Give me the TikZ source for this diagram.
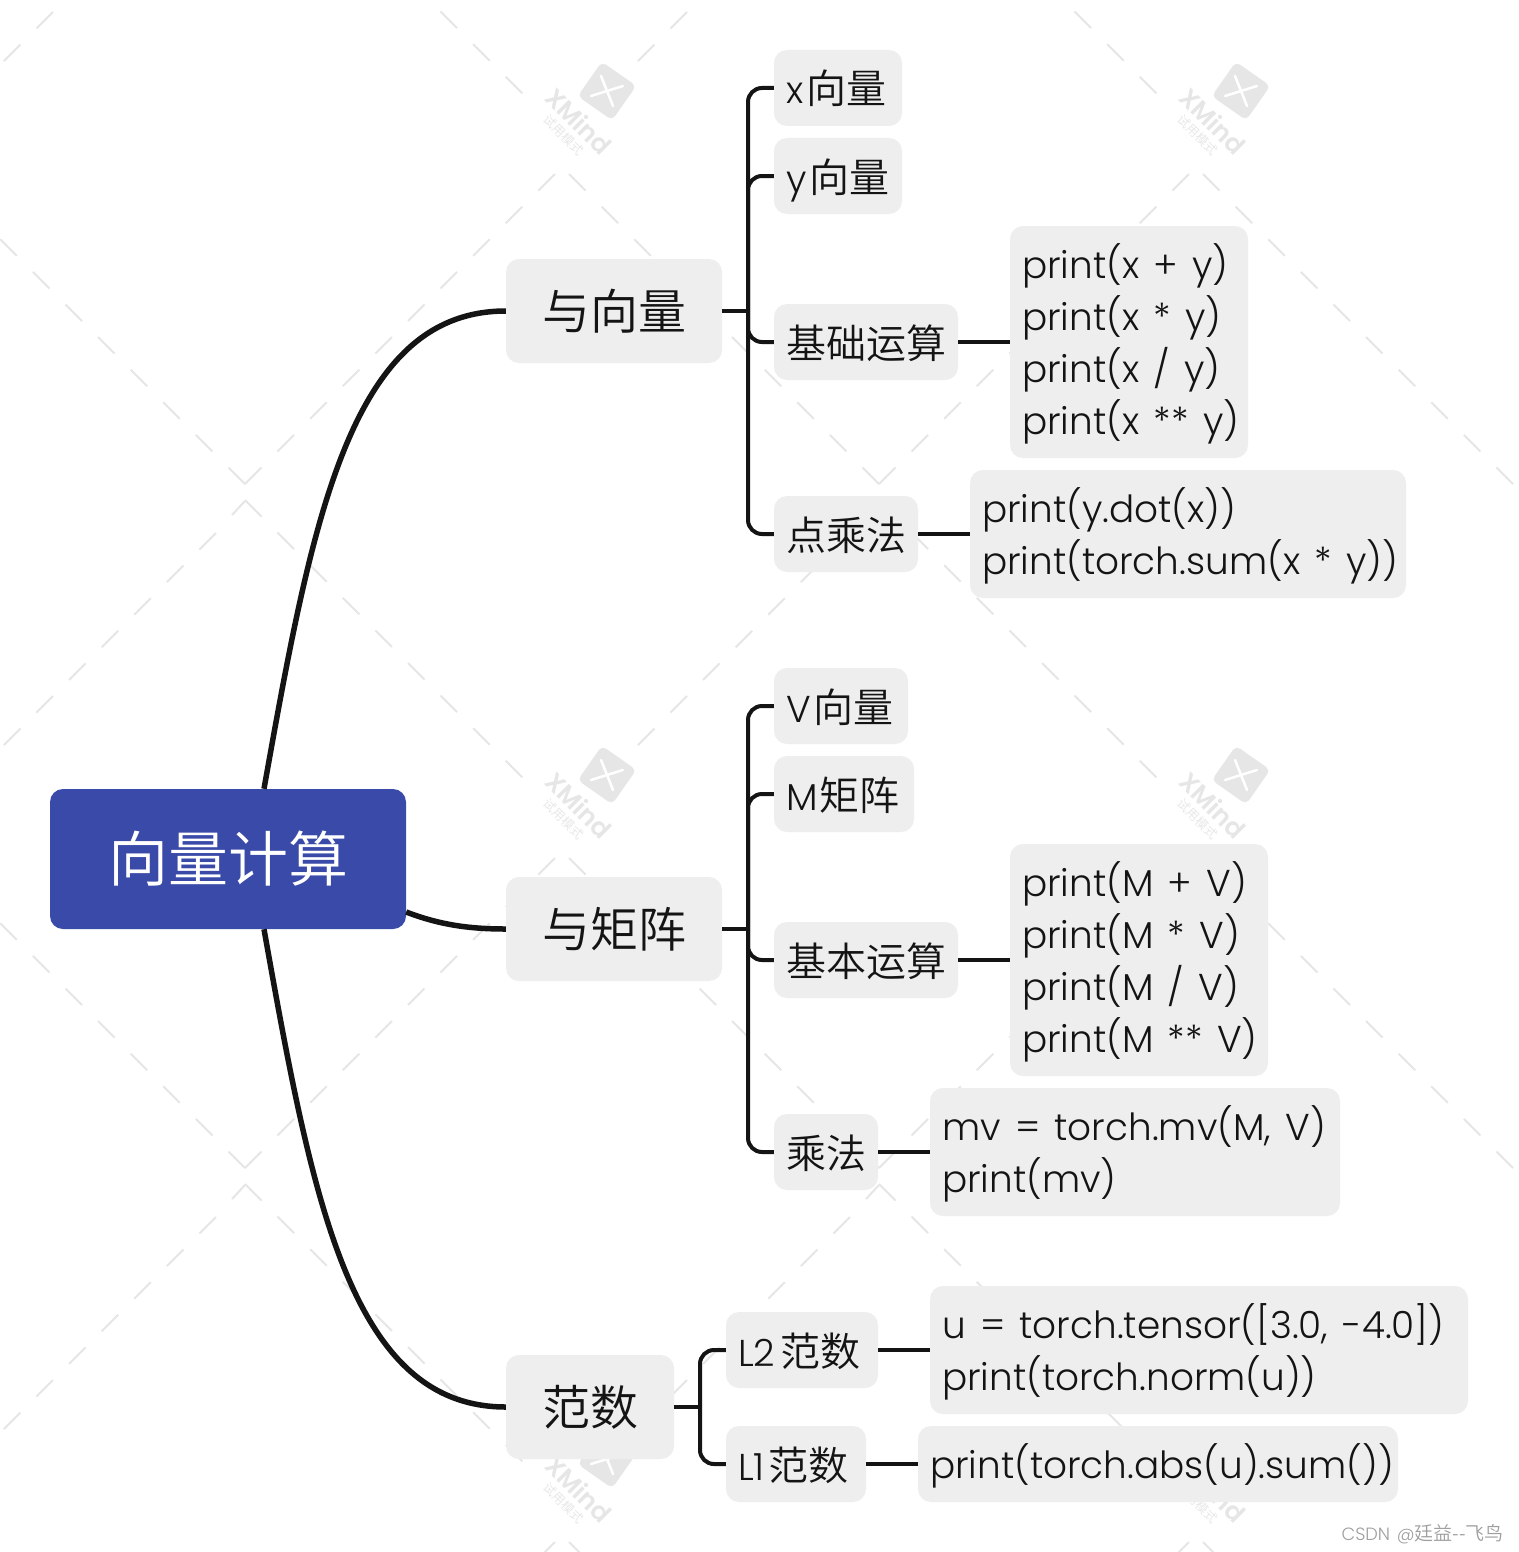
\documentclass[tikz,border=0pt]{standalone}
\usepackage{fontspec}
\setmainfont{Poppins}[UprightFont=* Light,BoldFont=* SemiBold,Scale=0.935,WordSpace=1.4]
\newfontfamily\cjk{Noto Sans CJK SC DemiLight}
\newcommand{\Cn}[1]{{\cjk #1}}
\definecolor{nodegray}{HTML}{EEEEEE}
\definecolor{rootblue}{HTML}{3A4AA9}
\definecolor{ink}{HTML}{141414}
\definecolor{wm}{HTML}{E6E6E6}
\tikzset{
  boxbase/.style={fill=nodegray,rounded corners=13pt,inner sep=0pt,text=ink},
  conn/.style={draw=ink,line width=4pt},
  trunk/.style={conn,rounded corners=14pt},
  curve/.style={conn,line width=5.5pt},
  wmdash/.style={draw=wm,line width=2pt},
}
% name, cx, cy, w, h, text : left-aligned with 12px margin
\newcommand{\leaf}[6]{%
  \pgfmathsetmacro{\innerw}{#4-24}%
  \node[boxbase,minimum width=#4pt,minimum height=#5pt] (#1) at (#2,#3)
   {\makebox[\innerw pt][l]{\raisebox{-16pt}[0pt][0pt]{\fontsize{40}{52}\selectfont #6}}};}
\newcommand{\codeleaf}[6]{%
  \pgfmathsetmacro{\innerw}{#4-24}%
  \node[boxbase,minimum width=#4pt,minimum height=#5pt] (#1) at (#2,#3)
   {\makebox[\innerw pt][l]{\raisebox{-4.5pt}[0pt][0pt]{\parbox[c]{1200pt}{\raggedright\fontsize{40}{52}\selectfont #6}}}};}
\begin{document}
\begin{tikzpicture}[x=1pt,y=-1pt]
\useasboundingbox (0,0) rectangle (1518,1552);
\fill[white] (0,0) rectangle (1518,1552);
% watermark
\begin{scope}
\clip (0,0) rectangle (1518,1552);
\foreach \k in {-1,0,1} \foreach \m in {-1,0,1,2} {
 \begin{scope}[shift={(\k*634,\m*684)}]
  \foreach \i in {0,...,9} {
    \draw[wmdash] (245+32.6*\i,484-32.6*\i) -- ++(16.5,-16.5);
    \draw[wmdash] (879-32.6*\i,484-32.6*\i) -- ++(-16.5,-16.5);
  }
  \foreach \i in {0,...,8} \draw[wmdash] (245+32.6*\i,500+32.6*\i) -- ++(16.5,16.5);
  \draw[wmdash] (245,501) -- (232,515);
  \foreach \i in {0,...,6} \draw[wmdash] (216-32.6*\i,533+32.6*\i) -- ++(-16.5,16.5);
 \end{scope}
}
\foreach \k in {0,1} \foreach \m in {0,1,2} {
 \begin{scope}[shift={(\k*634,\m*684)}]
  \node[fill=wm,rounded corners=5pt,minimum size=42pt,inner sep=0pt,rotate=-35] (wmlogo\k\m) at (607,91) {};
  \draw[white,line width=2.5pt,line cap=round] (591,96) -- (623,86);
  \draw[white,line width=2.5pt,line cap=round] (601,76) -- (613,106);
  \node[rotate=-45,text=wm,font=\bfseries\fontsize{27}{27}\selectfont,inner sep=0pt] (wmname\k\m) at (579,121) {XMind};
  \node[rotate=-45,text=wm,font=\cjk\fontsize{12.5}{13}\selectfont,inner sep=0pt] (wmsub\k\m) at (564,135) {试用模式};
 \end{scope}
}
\end{scope}
% root and first level
\node[fill=rootblue,rounded corners=13pt,minimum width=356pt,minimum height=140pt,inner sep=0pt,text=white,font=\cjk\fontsize{60}{60}\selectfont] (root) at (228,859) {向量计算};
\node[boxbase,minimum width=216pt,minimum height=104pt,font=\cjk\fontsize{48}{48}\selectfont] (a) at (614,311) {与向量};
\node[boxbase,minimum width=216pt,minimum height=104pt,font=\cjk\fontsize{48}{48}\selectfont] (b) at (614,929) {与矩阵};
\node[boxbase,minimum width=168pt,minimum height=104pt,font=\cjk\fontsize{48}{48}\selectfont] (c) at (590,1407) {范数};
% group a
\leaf{ax}{838}{88}{128}{76}{x\hspace{3pt}\Cn{向量}}
\leaf{ay}{838}{176}{128}{76}{y\hspace{3pt}\Cn{向量}}
\leaf{ab}{866}{342}{184}{76}{\Cn{基础运算}}
\codeleaf{abc}{1129}{342}{238}{232}{print(x + y)\\print(x * y)\\print(x / y)\\print(x ** y)}
\leaf{ad}{846}{534}{144}{76}{\Cn{点乘法}}
\codeleaf{adc}{1188}{534}{436}{128}{print(y.dot(x))\\print(torch.sum(x * y))}
% group b
\leaf{bv}{841}{706}{134}{76}{V\hspace{3pt}\Cn{向量}}
\leaf{bm}{844}{794}{140}{76}{M\hspace{2pt}\Cn{矩阵}}
\leaf{bb}{866}{960}{184}{76}{\Cn{基本运算}}
\codeleaf{bbc}{1139}{960}{258}{232}{print(M + V)\\print(M * V)\\print(M / V)\\print(M ** V)}
\leaf{bd}{826}{1152}{104}{76}{\Cn{乘法}}
\codeleaf{bdc}{1135}{1152}{410}{128}{mv = torch.mv(M, V)\\print(mv)}
% group c
\leaf{cl}{802}{1350}{152}{76}{L2\hspace{5pt}\Cn{范数}}
\codeleaf{clc}{1199}{1350}{538}{128}{u = torch.tensor([3.0, -4.0])\\print(torch.norm(u))}
\leaf{cm}{796}{1464}{140}{76}{L1\hspace{4pt}\Cn{范数}}
\codeleaf{cmc}{1158}{1464}{480}{76}{print(torch.abs(u).sum())}
% connectors
\draw[curve] (root.north) ++(36,0) .. controls (312,520) and (350,311) .. (a.west);
\draw[curve] (root.south) ++(36,0) .. controls (312,1198) and (350,1407) .. (c.west);
\draw[curve] (root.east) ++(0,53) .. controls (440,925) and (470,929) .. (b.west);
\coordinate (ta) at (748,311);
\coordinate (tb) at (748,929);
\coordinate (tc) at (700,1407);
\draw[conn] (a.east) -- (ta);
\draw[conn] (b.east) -- (tb);
\draw[conn] (c.east) -- (tc);
\foreach \n in {ax,ay,ab,ad} \draw[trunk] (ta) |- (\n.west);
\foreach \n in {bv,bm,bb,bd} \draw[trunk] (tb) |- (\n.west);
\foreach \n in {cl,cm} \draw[trunk] (tc) |- (\n.west);
\draw[conn] (ab) -- (abc);
\draw[conn] (ad) -- (adc);
\draw[conn] (bb) -- (bbc);
\draw[conn] (bd) -- (bdc);
\draw[conn] (cl) -- (clc);
\draw[conn] (cm) -- (cmc);
% credit
\node[anchor=east,text=black!38,inner sep=0pt,font=\fontsize{19}{19}\selectfont] (credit) at (1504,1534) {CSDN @\Cn{廷益--飞鸟}};
\end{tikzpicture}
\end{document}
